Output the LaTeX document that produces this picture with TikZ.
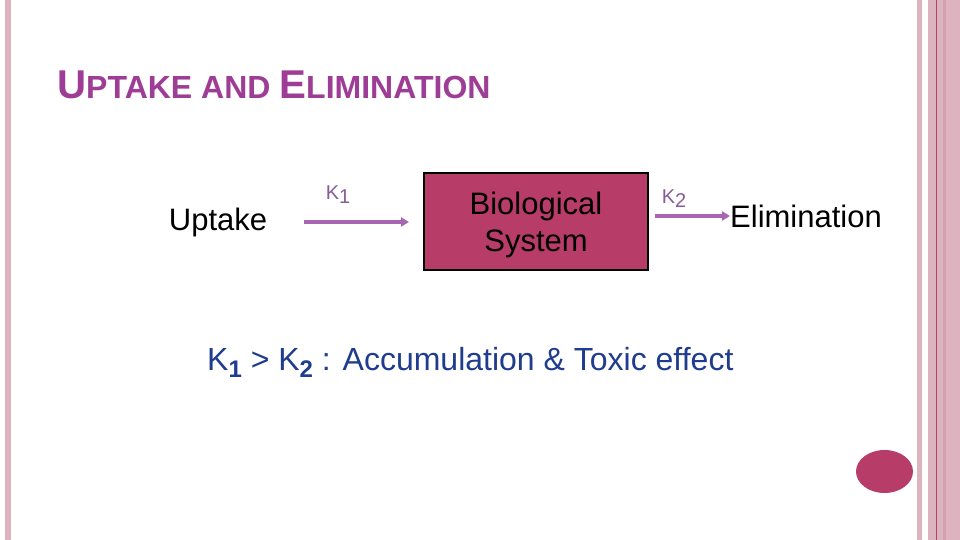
\documentclass[tikz,border=0pt]{standalone}
\usepackage{fontspec}
\setmainfont{Liberation Sans}
\usepackage{xcolor}
\usepackage{tikz}
\usetikzlibrary{arrows.meta,positioning}
\definecolor{rosa}{HTML}{DDB3C0}
\definecolor{rosaEscuro}{HTML}{D2A0B0}
\definecolor{vinho}{HTML}{B83C68}
\definecolor{linhaVinho}{HTML}{B04466}
\definecolor{roxo}{HTML}{A865B3}
\definecolor{roxoTitulo}{HTML}{9E3D96}
\definecolor{azul}{HTML}{1F3C8E}
\definecolor{rotuloK}{HTML}{8A5C96}
\tikzset{
    texto/.style={
        font=\fontsize{31}{36}\selectfont,
        text=black,
        inner sep=0pt
    },
    sistema/.style={
        rectangle,
        draw=black,
        line width=1.8pt,
        fill=vinho,
        align=center,
        minimum width=224pt,
        minimum height=97pt,
        font=\fontsize{31}{37}\selectfont
    },
    taxa/.style={
        font=\fontsize{20}{24}\selectfont,
        text=rotuloK,
        inner sep=0pt
    },
    fluxo/.style={-{Triangle[length=8pt,width=9pt]}, line width=4.5pt, draw=roxo},
    barra/.style={fill=rosa, draw=none}
}
\newcommand{\pequena}[1]{{\fontsize{32}{36}\selectfont #1}}
\newcommand{\grande}[1]{{\fontsize{40.2}{44}\selectfont #1}}
\newcommand{\subK}[1]{\raisebox{-7pt}{\fontsize{24}{26}\selectfont\bfseries #1}}
\begin{document}
\begin{tikzpicture}[x=1pt, y=-1pt]
    \useasboundingbox (0,0) rectangle (960,540);
    \fill[white] (0,0) rectangle (960,540);

    % moldura do slide
    \fill[barra] (5,0) rectangle (11,540);
    \fill[barra] (917,0) rectangle (922,540);
    \fill[barra] (928,0) rectangle (960,540);
    \fill[rosaEscuro] (943,0) rectangle (946,540);
    \draw[linhaVinho, line width=0.8pt] (936,0) -- (936,540);
    \fill[vinho] (884.5,471.5) ellipse [x radius=28.5, y radius=21.5];

    % titulo
    \node[anchor=base west, inner sep=0pt, text=roxoTitulo, font=\bfseries] (titulo) at (57,99)
        {\grande{U}\pequena{PTAKE AND }\grande{E}\pequena{LIMINATION}};

    % diagrama
    \node[sistema] (bio) at (536,221.5) {};
    \node[align=center, inner sep=0pt, font=\fontsize{31}{37}\selectfont] (biotexto) at (536,225) {Biological\\System};
    \node[texto] (uptake) at (218,222) {Uptake};
    \node[texto, anchor=west] (elim) at (730,216) {Elimination};
    \coordinate (k1ini) at (304,222);
    \coordinate (k1fim) at (409,222);
    \coordinate (k2ini) at (655,216);
    \draw[fluxo] (k1ini) -- (k1fim);
    \draw[fluxo] (k2ini) -- (elim.west);
    \node[taxa, anchor=base] (k1) at (338,200) {K\raisebox{-4pt}{1}};
    \node[taxa, anchor=base] (k2) at (674,203) {K\raisebox{-4pt}{2}};

    % conclusao
    \node[anchor=base west, inner sep=0pt, text=azul, font=\fontsize{32}{38}\selectfont] (conclusao) at (207,370)
        {K\subK{1} > K\subK{2} : Accumulation \& Toxic effect};
\end{tikzpicture}
\end{document}
